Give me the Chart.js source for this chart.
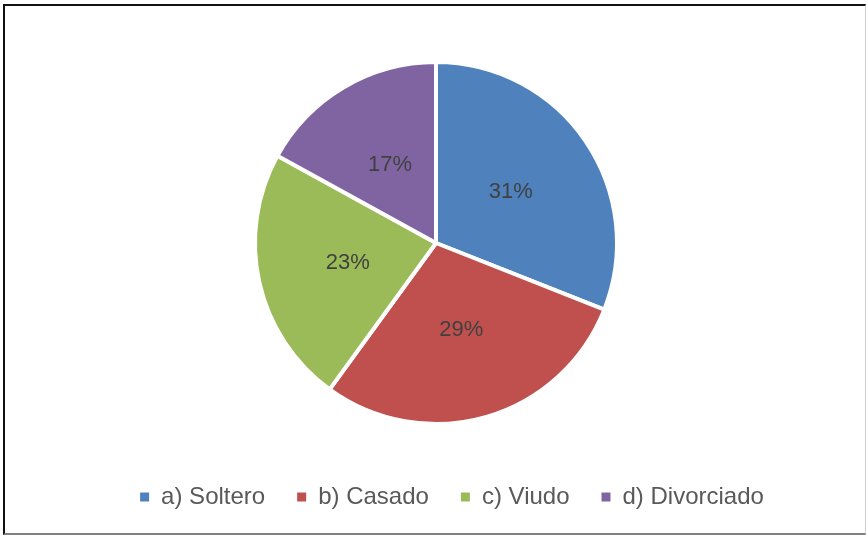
<!DOCTYPE html>
<html>
<head>
<meta charset="utf-8">
<script src="https://cdn.jsdelivr.net/npm/chart.js@4"></script>
<style>
  html, body { margin: 0; padding: 0; background: #fff; }
  #wrap { position: relative; width: 866px; height: 536px; }
  #frame {
    position: absolute; left: 3px; top: 4px; width: 863px; height: 531px;
    box-sizing: border-box;
    border-top: 2px solid #111; border-left: 2px solid #111;
    border-right: 1px solid #d0d0d0; border-bottom: 2px solid #808080;
    pointer-events: none;
  }
  canvas { position: absolute; left: 0; top: 0; }
</style>
</head>
<body>
<div id="wrap">
  <canvas id="pieChart" width="866" height="536"></canvas>
  <div id="frame"></div>
</div>
<script>
const categories = ['a) Soltero', 'b) Casado', 'c) Viudo', 'd) Divorciado'];
const percentages = [31, 29, 23, 17];
const sliceColors = ['#4F81BD', '#C0504D', '#9BBB59', '#8064A2'];

// percent labels in the middle of each slice
const sliceLabels = {
    id: 'sliceLabels',
    afterDatasetsDraw(chart) {
        const ctx = chart.ctx;
        const meta = chart.getDatasetMeta(0);
        ctx.save();
        ctx.font = '22px "Liberation Sans", Arial, sans-serif';
        ctx.fillStyle = '#404040';
        ctx.textAlign = 'center';
        ctx.textBaseline = 'middle';
        meta.data.forEach((arc, i) => {
            const p = arc.tooltipPosition();
            ctx.fillText(percentages[i] + '%', p.x, p.y);
        });
        ctx.restore();
    }
};

// legend sits a bit right of the pie centre in the original
const legendShift = {
    id: 'legendShift',
    afterLayout(chart) {
        chart.legend.left += 16;
        chart.legend.right += 16;
    }
};

const ctx = document.getElementById('pieChart').getContext('2d');
new Chart(ctx, {
    type: 'pie',
    data: {
        labels: categories,
        datasets: [{
            data: percentages,
            backgroundColor: sliceColors,
            borderColor: '#ffffff',
            borderWidth: 4
        }]
    },
    options: {
        responsive: false,
        animation: false,
        radius: 181,
        layout: { padding: { top: 33, bottom: 17, left: 6, right: 0 } },
        plugins: {
            legend: {
                position: 'bottom',
                labels: {
                    boxWidth: 9,
                    boxHeight: 9,
                    padding: 32,
                    color: '#595959',
                    font: { family: '"Liberation Sans", Arial, sans-serif', size: 24 },
                    generateLabels(chart) {
                        const items = Chart.overrides.pie.plugins.legend.labels.generateLabels(chart);
                        items.forEach(it => { it.lineWidth = 0; it.strokeStyle = it.fillStyle; });
                        return items;
                    }
                }
            },
            tooltip: { enabled: false }
        }
    },
    plugins: [sliceLabels, legendShift]
});
</script>
</body>
</html>
